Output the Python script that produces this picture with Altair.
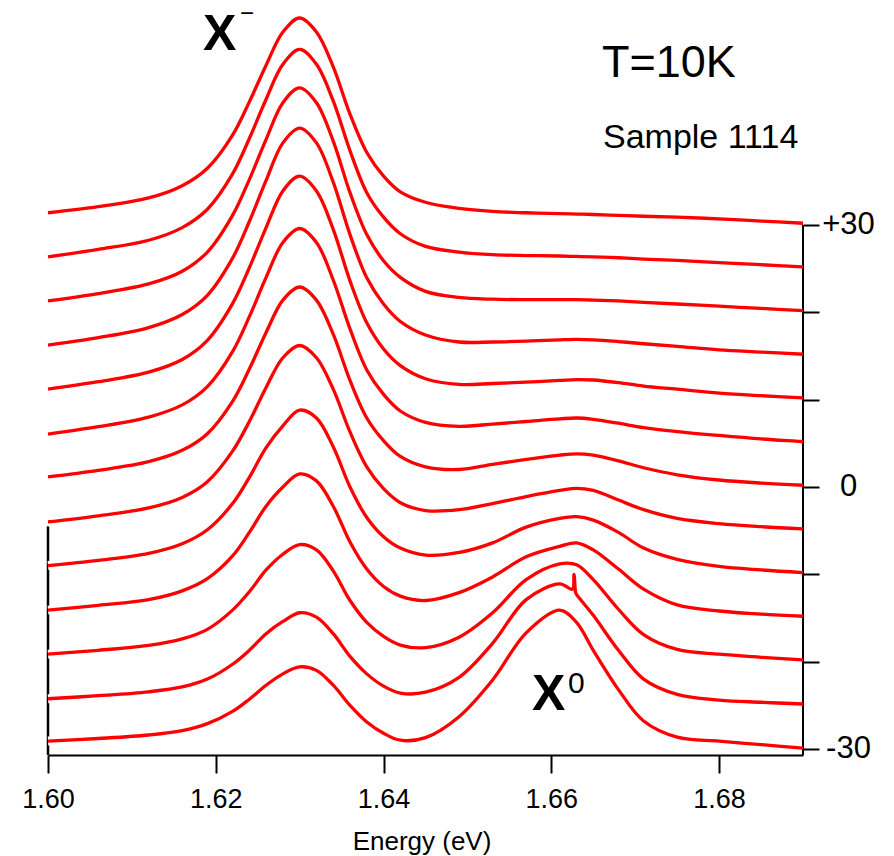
import altair as alt
import pandas as pd

# Photon energy grid (eV)
energy = [1.600, 1.606, 1.612, 1.616, 1.619, 1.622, 1.624, 1.626, 1.628, 1.630,
          1.632, 1.634, 1.636, 1.638, 1.640, 1.642, 1.645, 1.649, 1.653, 1.657,
          1.661, 1.663, 1.665, 1.668, 1.671, 1.675, 1.680, 1.685, 1.690]

# vertical offsets of the 13 spectra (right-axis units)
offsets = [-30, -25, -20, -15, -10, -5, 0, 5, 10, 15, 20, 25, 30]

# PL intensity of each spectrum (above its own offset), bottom to top
c0 = [0.9, 1.2, 1.6, 2.1, 2.9, 4.3, 5.7, 7.3, 8.6, 9.4, 9.0, 7.3, 5.0, 3.1, 1.8,
      1.0, 1.3, 3.7, 7.9, 13.3, 15.9, 14.5, 11.3, 6.8, 3.2, 1.35, 0.9, 0.5, 0.1]
c1 = [0.75, 1.1, 1.55, 2.1, 3.0, 4.7, 6.3, 8.2, 9.6, 10.6, 10.1, 8.2, 5.6, 3.6, 2.2,
      1.4, 1.5, 3.2, 7.1, 12.1, 13.9, 12.7, 10.3, 6.3, 3.0, 1.25, 0.6, 0.35, 0.15]
c2 = [0.85, 1.3, 1.85, 2.6, 3.7, 5.9, 8.0, 10.5, 12.3, 13.4, 12.8, 10.4, 7.0, 4.5, 2.9,
      1.9, 1.6, 2.8, 5.6, 9.4, 11.2, 11.1, 9.4, 6.0, 3.1, 1.4, 0.85, 0.5, 0.2]
c3 = [0.9, 1.45, 2.1, 3.1, 4.5, 7.1, 9.8, 12.8, 15.0, 16.5, 15.7, 12.8, 8.7, 5.6, 3.6,
      2.5, 2.0, 2.9, 4.7, 7.0, 8.2, 8.6, 7.8, 5.6, 3.3, 1.5, 0.8, 0.45, 0.2]
c4 = [1.0, 1.6, 2.4, 3.5, 5.1, 8.1, 11.1, 14.5, 17.0, 18.8, 17.9, 14.6, 10.0, 6.5, 4.3,
      3.0, 2.2, 2.5, 3.6, 5.4, 6.4, 6.6, 6.2, 4.8, 3.0, 1.7, 0.9, 0.5, 0.2]
c5 = [1.0, 1.7, 2.6, 3.8, 5.6, 9.1, 12.5, 16.4, 19.8, 21.2, 19.8, 16.2, 11.3, 7.3, 4.8,
      3.2, 2.3, 2.4, 3.1, 3.9, 4.6, 4.85, 4.6, 3.5, 2.4, 1.4, 0.8, 0.45, 0.2]
c6 = [1.15, 1.9, 2.9, 4.2, 6.1, 9.8, 13.5, 17.7, 21.4, 22.9, 21.4, 17.5, 12.2, 7.9, 5.3,
      3.5, 2.3, 2.0, 2.6, 3.15, 3.65, 3.8, 3.65, 3.0, 2.2, 1.4, 0.8, 0.45, 0.2]
c7 = [1.05, 1.9, 3.0, 4.4, 6.5, 10.5, 14.5, 19.0, 23.0, 24.6, 23.0, 18.7, 13.1, 8.4, 5.6,
      3.7, 2.4, 1.95, 2.2, 2.5, 2.8, 2.9, 2.75, 2.3, 1.8, 1.35, 0.9, 0.5, 0.2]
c8 = [1.2, 2.05, 3.15, 4.6, 6.8, 11.0, 15.1, 19.7, 23.9, 25.6, 23.9, 19.5, 13.6, 8.8, 5.8,
      3.9, 2.4, 1.75, 1.85, 2.0, 2.2, 2.3, 2.25, 1.95, 1.55, 1.2, 0.75, 0.45, 0.2]
c9 = [1.25, 2.1, 3.25, 4.75, 6.95, 11.2, 15.4, 20.1, 24.4, 26.1, 24.4, 19.9, 13.9, 8.95, 5.95,
      3.95, 2.4, 1.6, 1.6, 1.7, 1.85, 1.9, 1.85, 1.65, 1.4, 1.1, 0.7, 0.45, 0.2]
c10 = [1.3, 2.15, 3.25, 4.7, 6.9, 11.1, 15.2, 19.8, 24.0, 25.7, 24.0, 19.6, 13.7, 8.9, 5.9,
       4.0, 2.4, 1.7, 1.5, 1.45, 1.45, 1.45, 1.4, 1.3, 1.15, 0.95, 0.7, 0.45, 0.2]
c11 = [1.35, 2.2, 3.25, 4.7, 6.8, 10.85, 14.9, 19.4, 23.4, 25.1, 23.4, 19.2, 13.5, 8.7, 5.9,
       4.0, 2.55, 1.9, 1.6, 1.5, 1.45, 1.4, 1.35, 1.25, 1.1, 0.95, 0.7, 0.45, 0.2]
c12 = [1.4, 2.1, 3.1, 4.5, 6.5, 10.3, 14.1, 18.3, 22.1, 23.7, 22.1, 18.1, 12.7, 8.3, 5.6,
       3.8, 2.6, 1.9, 1.55, 1.4, 1.3, 1.25, 1.2, 1.1, 1.0, 0.9, 0.7, 0.45, 0.2]
spectra = [c0, c1, c2, c3, c4, c5, c6, c7, c8, c9, c10, c11, c12]

# narrow spike on the second spectrum
spike_energy = [1.6625, 1.6627, 1.6629]
spike_value = [13.3, 15.0, 12.9]

x_ticks = [1.60, 1.62, 1.64, 1.66, 1.68]
y_ticks = [-30, -20, -10, 0, 10, 20, 30]
x_domain = [1.60, 1.69]
y_domain = [-30.69, 55.19]
right_axis_span = [-30.69, 30]
left_axis_span = [-30.69, -4.5]

rows = []
for i, (off, vals) in enumerate(zip(offsets, spectra)):
    pts = list(zip(energy, vals))
    if i == 1:
        pts += list(zip(spike_energy, spike_value))
    pts.sort()
    for e, v in pts:
        rows.append({"curve": i, "E": e, "Y": off + v})
df = pd.DataFrame(rows)

FONT = "Liberation Sans, Arial, Helvetica, sans-serif"

xscale = alt.Scale(domain=x_domain, nice=False, zero=False)
yscale = alt.Scale(domain=y_domain, nice=False, zero=False)

x_axis = alt.Axis(values=x_ticks, format=".2f", title=None, grid=False,
                  tickSize=18, tickWidth=2, tickColor="black",
                  domainColor="black", domainWidth=2,
                  labelFont=FONT, labelFontSize=27, labelColor="black",
                  labelPadding=13, labelFlush=False)
y_axis = alt.Axis(orient="right", values=y_ticks, title=None, grid=False,
                  domain=False, tickSize=16, tickWidth=2, tickColor="black",
                  labelExpr="datum.value == 30 ? '+30' : (datum.value == 0 ? '0' : (datum.value == -30 ? '-30' : ''))",
                  labelFont=FONT, labelFontSize=31, labelColor="black",
                  labelAlign="center", labelPadding=29, labelFlush=False)

def X(field):
    return alt.X(field, scale=xscale, axis=x_axis, title=None)

def Y(field):
    return alt.Y(field, scale=yscale, axis=y_axis, title=None)

base = alt.Chart(df)

halo = base.mark_line(color="white", strokeWidth=9, interpolate="catmull-rom").encode(
    x=X("E:Q"), y=Y("Y:Q"), detail="curve:N")

lines = base.mark_line(color="#ff0000", strokeWidth=3.3, interpolate="catmull-rom").encode(
    x=X("E:Q"), y=Y("Y:Q"), detail="curve:N")

right_rule = alt.Chart(pd.DataFrame({"x": [x_domain[1]], "y": [right_axis_span[0]], "y2": [right_axis_span[1]]})).mark_rule(
    color="black", strokeWidth=2).encode(x=X("x:Q"), y=Y("y:Q"), y2="y2:Q")
left_rule = alt.Chart(pd.DataFrame({"x": [x_domain[0]], "y": [left_axis_span[0]], "y2": [left_axis_span[1]]})).mark_rule(
    color="black", strokeWidth=2.5).encode(x=X("x:Q"), y=Y("y:Q"), y2="y2:Q")

def label(text, x, y, size, weight="normal", align="left"):
    return alt.Chart(pd.DataFrame({"t": [text]})).mark_text(
        font=FONT, fontSize=size, fontWeight=weight, align=align,
        baseline="alphabetic", color="black").encode(
        text="t:N", x=alt.value(x), y=alt.value(y))

texts = [
    label("X", 155, 45, 50, "bold"),
    label("\u2212", 192, 16, 24),
    label("X", 484, 705, 50, "bold"),
    label("0", 520, 688, 30),
    label("T=10K", 554, 72, 45),
    label("Sample 1114", 555, 143, 34),
    label("Energy (eV)", 374, 845, 26, align="center"),
]

chart = alt.layer(left_rule, halo, right_rule, lines, *texts).properties(
    width=755, height=750,
    padding={"left": 48, "top": 5, "right": 91, "bottom": 101},
    autosize=alt.AutoSizeParams(type="none"),
    background="white",
).configure_view(stroke=None)

chart.save("out.html", embed_options={"renderer": "svg", "actions": False})
